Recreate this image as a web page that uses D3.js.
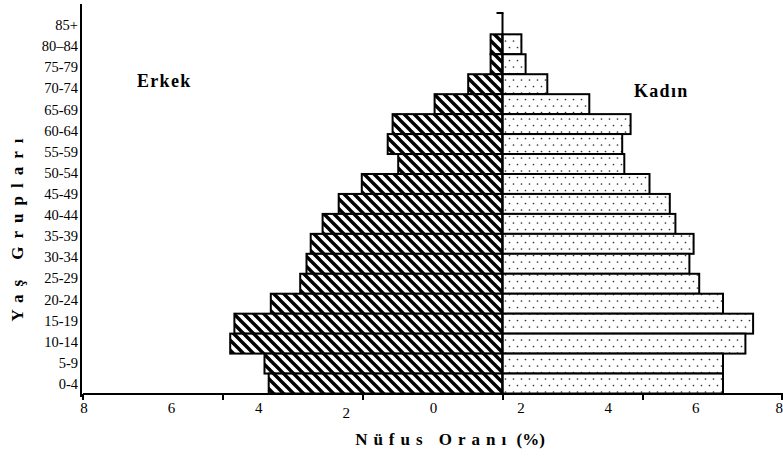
<!DOCTYPE html>
<html><head><meta charset="utf-8">
<script src="https://cdn.jsdelivr.net/npm/d3@7"></script>
<style>
html,body{margin:0;padding:0;background:#fff;}
svg{display:block;}
text{font-family:"Liberation Serif","Times New Roman",serif;fill:#000;}
</style></head>
<body>
<svg id="chart" width="783" height="457"></svg>
<script>
// Age groups, top to bottom
const ageGroups = ["85+","80\u201384","75-79","70-74","65-69","60-64","55-59","50-54","45-49","40-44","35-39","30-34","25-29","20-24","15-19","10-14","5-9","0-4"];
// Population share (%) by age group, same order
const maleValues   = [0.17,0.17,0.49,0.97,1.57,1.64,1.49,2.01,2.34,2.57,2.74,2.80,2.89,3.31,3.83,3.89,3.40,3.34];
const femaleValues = [0.27,0.33,0.64,1.24,1.83,1.71,1.74,2.10,2.39,2.47,2.73,2.67,2.81,3.15,3.58,3.47,3.15,3.15];
// Axis tick labels as printed
const xTickLabels = ["8","6","4","2","0","2","4","6","8"];
const xTickValues = [-6,-4,-2,0,2,4];

const svg = d3.select("#chart");
const defs = svg.append("defs");

// Hatch pattern for men
const hatch = defs.append("pattern").attr("id","hatch")
  .attr("patternUnits","userSpaceOnUse").attr("width",10).attr("height",10);
hatch.append("rect").attr("width",10).attr("height",10).attr("fill","#fff");
hatch.append("path").attr("d","M-5,5 L5,15 M0,0 L10,10 M5,-5 L15,5")
  .attr("stroke","#000").attr("stroke-width",3.4);

// Dotted pattern for women
const dots = defs.append("pattern").attr("id","dots")
  .attr("patternUnits","userSpaceOnUse").attr("width",8).attr("height",13);
dots.append("rect").attr("width",8).attr("height",13).attr("fill","#fff");
dots.append("circle").attr("cx",1.5).attr("cy",2).attr("r",0.85).attr("fill","#333");
dots.append("circle").attr("cx",5.5).attr("cy",8.5).attr("r",0.85).attr("fill","#333");

const x = d3.scaleLinear().domain([-6,4]).range([82.5,782.5]);
const y = d3.scaleBand().domain(ageGroups).range([34.3,393.5]).padding(0);
const yLab = d3.scalePoint().domain(ageGroups).range([25,384]);
const xLab = d3.scalePoint().domain(d3.range(xTickLabels.length)).range([84,783]);

const axisY = 394;

// Male bars
svg.append("g").selectAll("rect").data(ageGroups).join("rect")
  .attr("x",(d,i)=>x(-maleValues[i]))
  .attr("y",d=>y(d))
  .attr("width",(d,i)=>x(0)-x(-maleValues[i]))
  .attr("height",y.bandwidth())
  .attr("fill","url(#hatch)").attr("stroke","#000").attr("stroke-width",2);

// Female bars
svg.append("g").selectAll("rect").data(ageGroups).join("rect")
  .attr("x",x(0))
  .attr("y",d=>y(d))
  .attr("width",(d,i)=>x(femaleValues[i])-x(0))
  .attr("height",y.bandwidth())
  .attr("fill","url(#dots)").attr("stroke","#000").attr("stroke-width",2);

// Center axis line
svg.append("line").attr("x1",x(0)).attr("x2",x(0)).attr("y1",13).attr("y2",axisY)
  .attr("stroke","#000").attr("stroke-width",2);
svg.append("line").attr("x1",x(0)-6).attr("x2",x(0)+1).attr("y1",13).attr("y2",13)
  .attr("stroke","#000").attr("stroke-width",2);

// Bottom axis
const xAxis = svg.append("g").attr("transform",`translate(0,${axisY})`)
  .call(d3.axisBottom(x).tickValues(xTickValues).tickFormat("").tickSize(6).tickSizeOuter(0));
xAxis.select(".domain").attr("stroke","#000").attr("stroke-width",2).attr("d",`M83,0H783`);
xAxis.selectAll(".tick line").attr("stroke","#000").attr("stroke-width",2);
svg.append("line").attr("x1",782).attr("x2",782).attr("y1",axisY).attr("y2",axisY+6)
  .attr("stroke","#000").attr("stroke-width",2);

// Left axis line
svg.append("line").attr("x1",81).attr("x2",81).attr("y1",4).attr("y2",397)
  .attr("stroke","#000").attr("stroke-width",2);

// X tick labels
const nT = xTickLabels.length;
svg.append("g").selectAll("text").data(xTickLabels).join("text")
  .attr("x",(d,i)=>xLab(i)).attr("y",(d,i)=> i===3 ? 418 : 413)
  .attr("text-anchor",(d,i)=> i===nT-1 ? "end" : "middle")
  .attr("font-size",15).text(d=>d);

// Y labels
svg.append("g").selectAll("text").data(ageGroups).join("text")
  .attr("x",78).attr("y",d=>yLab(d)).attr("dy","0.35em")
  .attr("text-anchor","end").attr("font-size",14.5).text(d=>d);

// Series labels
svg.append("text").attr("x",137).attr("y",87).attr("font-size",18).attr("font-weight","bold")
  .attr("letter-spacing",1.3).text("Erkek");
svg.append("text").attr("x",634).attr("y",97).attr("font-size",18).attr("font-weight","bold")
  .attr("letter-spacing",1.3).text("Kadın");

// Axis titles
const xt = svg.append("text").attr("x",450).attr("y",445).attr("text-anchor","middle")
  .attr("font-size",17).attr("font-weight","bold");
xt.append("tspan").attr("letter-spacing",6).text("Nüfus  Oranı");
xt.append("tspan").text(" (%)");

svg.append("text").attr("transform","translate(23,226) rotate(-90)")
  .attr("text-anchor","middle").attr("font-size",17).attr("font-weight","bold")
  .attr("letter-spacing",8).text("Yaş Grupları");
</script>
</body></html>
